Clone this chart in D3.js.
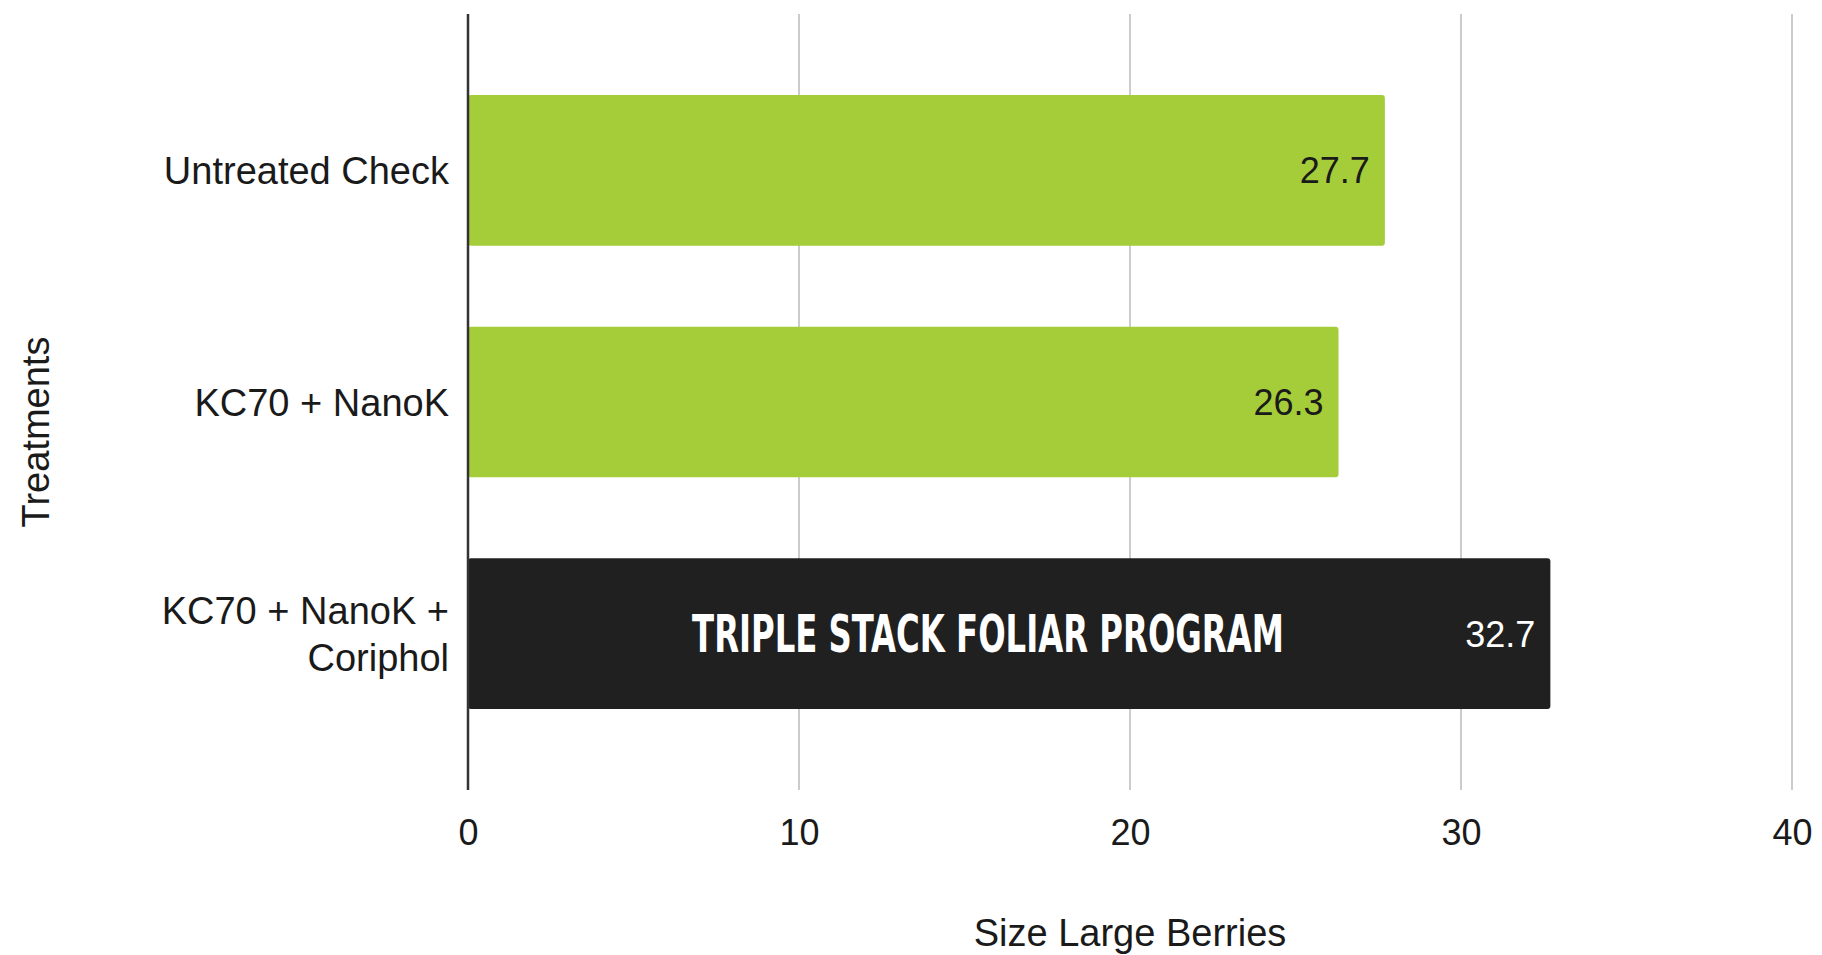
<!DOCTYPE html>
<html>
<head>
<meta charset="utf-8">
<script src="https://cdn.jsdelivr.net/npm/d3@7"></script>
<style>
  html, body { margin: 0; padding: 0; background: #fff; }
  svg { display: block; }
</style>
</head>
<body>
<svg id="chart" width="1822" height="955"></svg>
<script>
const categories = [["Untreated Check"], ["KC70 + NanoK"], ["KC70 + NanoK +", "Coriphol"]];
const categoryKeys = ["Untreated Check", "KC70 + NanoK", "KC70 + NanoK + Coriphol"];
const values = [27.7, 26.3, 32.7];
const barColors = ["#a4cd39", "#a4cd39", "#202020"];
const labelColors = ["#1a1a1a", "#1a1a1a", "#ffffff"];
const xTicks = [0, 10, 20, 30, 40];
const highlightText = "TRIPLE STACK FOLIAR PROGRAM";
const xTitle = "Size Large Berries";
const yTitle = "Treatments";

const svg = d3.select("#chart");
const margin = { left: 468, right: 30, top: 14, bottom: 165 };
const W = 1822, H = 955;
const font = "'Liberation Sans', Arial, sans-serif";

const x = d3.scaleLinear().domain([0, 40]).range([margin.left, 1792]);
const y = d3.scaleBand().domain(categoryKeys).range([margin.top, H - margin.bottom]).paddingInner(0.35).paddingOuter(0.35);

// gridlines
svg.append("g").selectAll("line").data(xTicks.filter(d => d > 0)).join("line")
  .attr("x1", d => x(d)).attr("x2", d => x(d))
  .attr("y1", margin.top).attr("y2", H - margin.bottom)
  .attr("stroke", "#cccccc").attr("stroke-width", 2);

// bars
const data = categoryKeys.map((k, i) => ({ key: k, lines: categories[i], value: values[i], color: barColors[i], lc: labelColors[i] }));
svg.append("g").selectAll("rect").data(data).join("rect")
  .attr("x", x(0)).attr("y", d => y(d.key))
  .attr("width", d => x(d.value) - x(0)).attr("height", y.bandwidth())
  .attr("rx", 3).attr("fill", d => d.color);

// y axis line
svg.append("line")
  .attr("x1", x(0)).attr("x2", x(0))
  .attr("y1", margin.top).attr("y2", H - margin.bottom)
  .attr("stroke", "#333").attr("stroke-width", 2.5);

// value labels
svg.append("g").selectAll("text").data(data).join("text")
  .attr("x", d => x(d.value) - 15)
  .attr("y", d => y(d.key) + y.bandwidth() / 2)
  .attr("dy", "0.36em")
  .attr("text-anchor", "end")
  .attr("font-family", font).attr("font-size", 36)
  .attr("fill", d => d.lc)
  .text(d => d.value.toFixed(1));

// highlight text inside dark bar (condensed via horizontal scale)
const hl = data[2];
const hlCx = 988, hlCy = y(hl.key) + y.bandwidth() / 2;
const hlText = svg.append("text")
  .attr("x", 0).attr("y", 0)
  .attr("dy", "0.36em")
  .attr("text-anchor", "middle")
  .attr("font-family", "'DejaVu Sans Condensed', 'Liberation Sans Narrow', sans-serif")
  .attr("font-weight", "bold").attr("font-size", 52)
  .attr("fill", "#ffffff")
  .text(highlightText);
const natural = hlText.node().getComputedTextLength();
const sx = 592 / natural;
hlText.attr("transform", `translate(${hlCx}, ${hlCy}) scale(${sx}, 1)`);

// category labels
const cat = svg.append("g").selectAll("text").data(data).join("text")
  .attr("text-anchor", "end")
  .attr("font-family", font).attr("font-size", 38)
  .attr("fill", "#1a1a1a")
  .attr("transform", d => `translate(449, ${y(d.key) + y.bandwidth() / 2})`);
cat.selectAll("tspan").data(d => d.lines.map((l, i) => ({ l, i, n: d.lines.length }))).join("tspan")
  .attr("x", 0)
  .attr("y", t => (t.i - (t.n - 1) / 2) * 47)
  .attr("dy", "0.36em")
  .text(t => t.l);

// x axis tick labels
const xAxis = d3.axisBottom(x).tickValues(xTicks).tickSize(0).tickPadding(0).tickFormat(d3.format("d"));
const gx = svg.append("g").attr("transform", `translate(0, ${H - margin.bottom})`).call(xAxis);
gx.select(".domain").remove();
gx.selectAll("text")
  .attr("font-family", font).attr("font-size", 36).attr("fill", "#1a1a1a")
  .attr("y", 42).attr("dy", "0.36em");

// axis titles
svg.append("text")
  .attr("x", (x.range()[0] + x.range()[1]) / 2).attr("y", 932).attr("dy", "0.36em")
  .attr("text-anchor", "middle")
  .attr("font-family", font).attr("font-size", 38).attr("fill", "#1a1a1a")
  .text(xTitle);

svg.append("text")
  .attr("transform", `translate(35, 432) rotate(-90)`)
  .attr("dy", "0.36em")
  .attr("text-anchor", "middle")
  .attr("font-family", font).attr("font-size", 38).attr("fill", "#1a1a1a")
  .text(yTitle);
</script>
</body>
</html>
